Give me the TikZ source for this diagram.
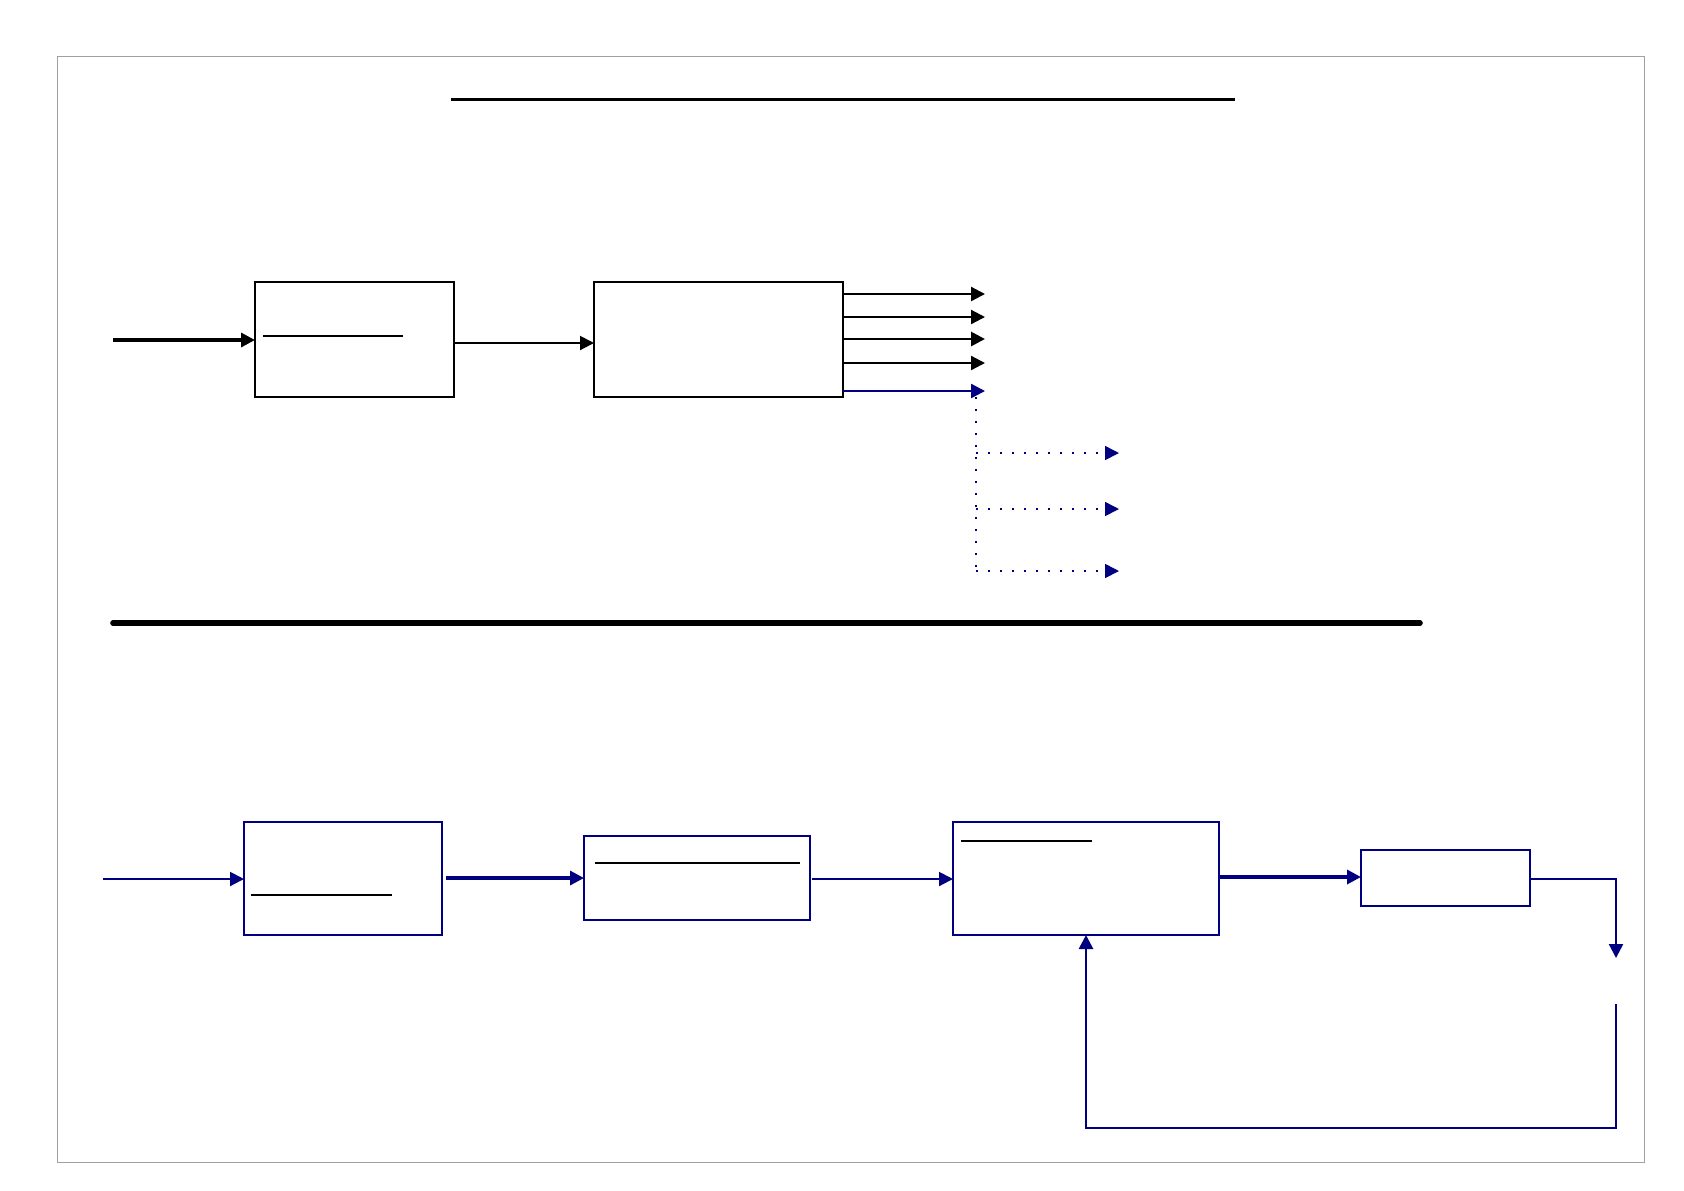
\documentclass[tikz,border=0pt]{standalone}
\usetikzlibrary{arrows.meta}
\definecolor{navy}{RGB}{0,0,128}
\begin{document}
\begin{tikzpicture}[x=0.5pt,y=-0.5pt,
  kbox/.style={draw=black,line width=1.2pt,fill=none,inner sep=0pt,outer sep=0pt,anchor=north west},
  nbox/.style={draw=navy,line width=1.2pt,fill=none,inner sep=0pt,outer sep=0pt,anchor=north west},
  karrow/.style={draw=black,line width=1.4pt,-{Triangle[length=7pt,width=7pt]}},
  narrow/.style={draw=navy,line width=1.2pt,-{Triangle[length=7pt,width=7pt]}},
  darrow/.style={draw=navy,line width=0.8pt,dash pattern=on 0.8pt off 5.2pt,-{Triangle[length=7pt,width=7pt]}},
  rule/.style={draw=black,line width=0.6pt}]
\useasboundingbox (0,0) rectangle (1684,1190);
\fill[white] (0,0) rectangle (1684,1190);
\draw[draw={rgb,255:red,160;green,160;blue,160},line width=0.5pt] (57,56) rectangle (1644,1162);
% title line and separator
\draw[black,line width=1.5pt] (451,99) -- (1235,99);
\draw[black,line width=2.8pt,line cap=round] (113,623) -- (1420,623);
% top section
\node[kbox,minimum width=99.5pt,minimum height=57.5pt] (A) at (255,282) {};
\node[kbox,minimum width=124.5pt,minimum height=57.5pt] (B) at (594,282) {};
\draw[rule] (263,336) -- (403,336);
\coordinate (in1) at (113,340);
\draw[karrow,line width=1.6pt] (in1) -- (A.west |- in1);
\draw[draw=black,line width=1pt,-{Triangle[length=7pt,width=7pt]}] (A.east |- 0,343) -- (B.west |- 0,343);
\coordinate (o1) at (985,294);
\coordinate (o2) at (985,317);
\coordinate (o3) at (985,339);
\coordinate (o4) at (985,363);
\coordinate (o5) at (985,391);
\draw[karrow,line width=1.1pt] (B.east |- o1) -- (o1);
\draw[karrow,line width=1.1pt] (B.east |- o2) -- (o2);
\draw[karrow] (B.east |- o3) -- (o3);
\draw[karrow,line width=1.1pt] (B.east |- o4) -- (o4);
\draw[narrow] (B.east |- o5) -- (o5);
\coordinate (dv) at (976,397);
\coordinate (dh1) at (976,453);
\coordinate (dh2) at (976,509);
\coordinate (dh3) at (976,571);
\coordinate (e1) at (1119,453);
\coordinate (e2) at (1119,509);
\coordinate (e3) at (1119,571);
\draw[draw=navy,line width=0.8pt,dash pattern=on 0.8pt off 5.2pt] (dv) -- (dh3);
\draw[darrow] (dh1) -- (e1);
\draw[darrow] (dh2) -- (e2);
\draw[darrow] (dh3) -- (e3);
% bottom section
\node[nbox,minimum width=99pt,minimum height=56.5pt] (C) at (244,822) {};
\node[nbox,minimum width=113pt,minimum height=42pt,line width=1.4pt] (D) at (584,836) {};
\node[nbox,minimum width=133pt,minimum height=56.5pt] (E) at (953,822) {};
\node[nbox,minimum width=84.5pt,minimum height=28pt] (F) at (1361,850) {};
\draw[rule] (251,895) -- (392,895);
\draw[rule] (595,863) -- (800,863);
\draw[rule] (961,841) -- (1092,841);
\coordinate (in2) at (103,879);
\draw[narrow,line width=1pt] (in2) -- (C.west |- in2);
\draw[narrow,line width=1.6pt] ([xshift=2pt]C.east |- 0,878) -- (D.west |- 0,878);
\draw[narrow,line width=1pt] ([xshift=1pt]D.east |- 0,879) -- (E.west |- 0,879);
\draw[narrow,line width=1.6pt] (E.east |- 0,877) -- (F.west |- 0,877);
\coordinate (f1) at (1616,958);
\coordinate (f2) at (1616,1004);
\coordinate (f3) at (1616,1128);
\draw[narrow] (F.east |- 0,879) -| (f1);
\draw[narrow,line width=1.4pt] (f2) -- (f3) -| (E.south);
\end{tikzpicture}
\end{document}
